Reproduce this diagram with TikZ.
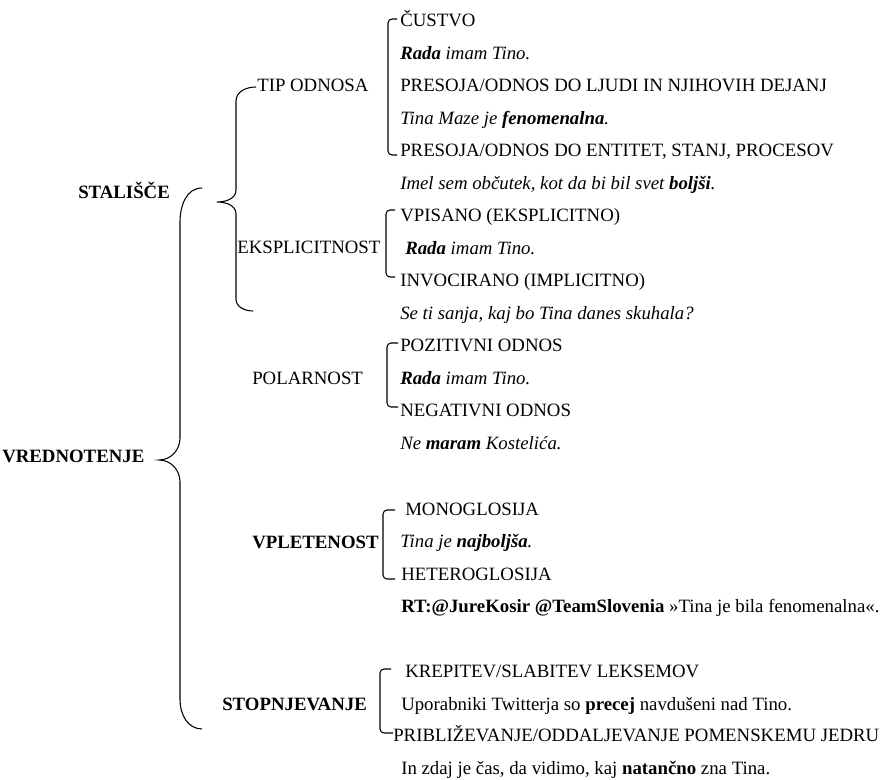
\documentclass[tikz,border=0pt]{standalone}
\usepackage{fontspec}
\setmainfont{Liberation Serif}
\usetikzlibrary{positioning}

\tikzset{
  vrstica/.style={anchor=west, inner sep=0pt, text height=1.5ex, text depth=.25ex, font=\fontsize{14.1}{17}\selectfont},
  glava/.style={vrstica, font=\fontsize{14.1}{17}\selectfont\bfseries},
  klamra/.style={line width=0.8pt, rounded corners=3pt},
  zavit/.style={line width=0.8pt}
}

\begin{document}
\begin{tikzpicture}[x=0.75pt, y=-0.75pt]
\useasboundingbox (0,0) rectangle (886,780);

% leva stran
\node[glava] (stalisce) at (78,195) {STALIŠČE};
\node[glava] (vred) at (2,459) {VREDNOTENJE};
\node[vrstica] (tip) at (257,88) {TIP ODNOSA};
\node[vrstica] (eksp) at (237,250) {EKSPLICITNOST};
\node[vrstica] (polar) at (252,381) {POLARNOST};
\node[glava] (vplet) at (252,545) {VPLETENOST};
\node[glava] (stopnj) at (222,707) {STOPNJEVANJE};

% tip odnosa
\node[vrstica] (custvo) at (400,23) {ČUSTVO};
\node[vrstica] (prim1) at (400,56) {\itshape\textbf{Rada} imam Tino.};
\node[vrstica] (ljudi) at (400,88) {PRESOJA/ODNOS DO LJUDI IN NJIHOVIH DEJANJ};
\node[vrstica] (prim2) at (400,121) {\itshape Tina Maze je \textbf{fenomenalna}.};
\node[vrstica] (entitete) at (400,153) {PRESOJA/ODNOS DO ENTITET, STANJ, PROCESOV};
\node[vrstica] (prim3) at (400,186) {\itshape Imel sem občutek, kot da bi bil svet \textbf{boljši}.};

% eksplicitnost
\node[vrstica] (vpisano) at (400,218) {VPISANO (EKSPLICITNO)};
\node[vrstica] (prim4) at (405,251) {\itshape\textbf{Rada} imam Tino.};
\node[vrstica] (invoc) at (400,283) {INVOCIRANO (IMPLICITNO)};
\node[vrstica] (prim5) at (400,316) {\itshape Se ti sanja, kaj bo Tina danes skuhala?};

% polarnost
\node[vrstica] (pozit) at (400,348) {POZITIVNI ODNOS};
\node[vrstica] (prim6) at (400,381) {\itshape\textbf{Rada} imam Tino.};
\node[vrstica] (negat) at (400,413) {NEGATIVNI ODNOS};
\node[vrstica] (prim7) at (400,446) {\itshape Ne \textbf{maram} Kostelića.};

% vpletenost
\node[vrstica] (mono) at (405,512) {MONOGLOSIJA};
\node[vrstica] (prim8) at (400,544) {\itshape Tina je \textbf{najboljša}.};
\node[vrstica] (hetero) at (401,577) {HETEROGLOSIJA};
\node[vrstica] (prim9) at (401,609) {\textbf{RT:@JureKosir @TeamSlovenia} »Tina je bila fenomenalna«.};

% stopnjevanje
\node[vrstica] (krep) at (405,674) {KREPITEV/SLABITEV LEKSEMOV};
\node[vrstica] (prim10) at (401,707) {Uporabniki Twitterja so \textbf{precej} navdušeni nad Tino.};
\node[vrstica] (pribl) at (393,738) {PRIBLIŽEVANJE/ODDALJEVANJE POMENSKEMU JEDRU};
\node[vrstica] (prim11) at (401,771) {In zdaj je čas, da vidimo, kaj \textbf{natančno} zna Tina.};

% zavita oklepaja
\draw[zavit] (202,188) to[out=180,in=90] (180,222) -- (180,438) to[out=-90,in=0] (159,460)
	to[out=0,in=90] (180,482) -- (180,700) to[out=-90,in=180] (202,729);
\draw[zavit] (256,87) to[out=180,in=90] (236,101) -- (236,190) to[out=-90,in=0] (217,202)
	to[out=0,in=90] (236,214) -- (236,299) to[out=-90,in=180] (253,311);

% oglati oklepaji
\draw[klamra] (397,19) -- (388,19) -- (388,155) -- (397,155);
\draw[klamra] (395,210) -- (386,210) -- (386,277) -- (395,277);
\draw[klamra] (398,343) -- (387,343) -- (387,407) -- (398,407);
\draw[klamra] (395,510) -- (383,510) -- (383,579) -- (395,579);
\draw[klamra] (391,669) -- (380,669) -- (380,733) -- (393,733);

\end{tikzpicture}
\end{document}
